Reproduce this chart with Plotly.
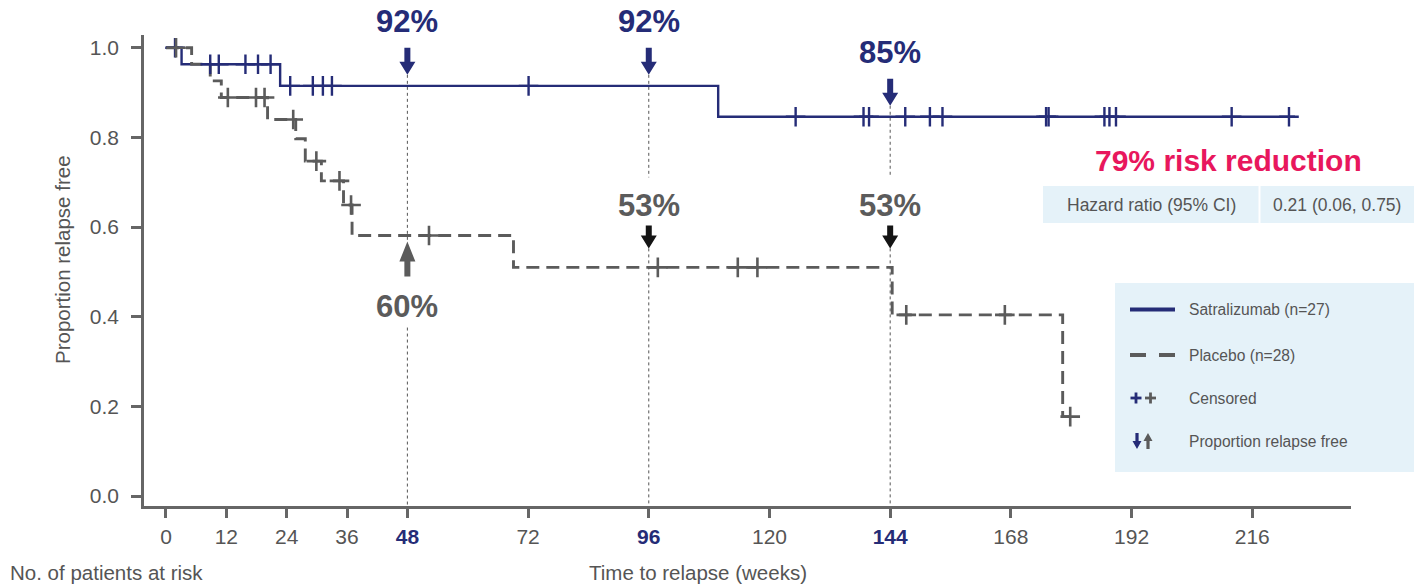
import numpy as np
import plotly.graph_objects as go

# ---------------- data ----------------
sat_weeks = [0, 3.1, 22.7, 109.8, 224.5]
sat_surv = [1.0, 0.963, 0.915, 0.846, 0.846]
sat_censor_weeks = [1.8, 8.8, 10.5, 15.8, 18.3, 20.8, 24.7, 29.2, 31.2, 33.0, 72.1,
                    125.2, 138.7, 139.8, 147.0, 151.9, 154.4, 175.0, 175.5,
                    186.6, 187.6, 188.9, 211.9, 223.3]

pla_weeks = [0, 5.1, 8.8, 11.0, 20.2, 25.8, 27.7, 30.9, 35.3, 37.0, 69.1, 144.4, 178.3, 180.5]
pla_surv = [1.0, 0.963, 0.926, 0.889, 0.840, 0.797, 0.747, 0.703, 0.649, 0.581, 0.510, 0.404, 0.177, 0.177]
pla_censor_weeks = [2.0, 12.3, 17.9, 19.6, 25.3, 29.9, 34.5, 36.8, 52.3, 97.8, 113.7, 117.6,
                    147.2, 166.8, 179.8]

landmark_weeks = [48, 96, 144]
sat_landmark_pct = [92, 92, 85]
pla_landmark_pct = [60, 53, 53]

x_tickvals = [0, 12, 24, 36, 48, 72, 96, 120, 144, 168, 192, 216]
y_tickvals = [0.0, 0.2, 0.4, 0.6, 0.8, 1.0]
y_ticktext = ["0.0", "0.2", "0.4", "0.6", "0.8", "1.0"]

sat_name = "Satralizumab (n=27)"
pla_name = "Placebo (n=28)"
risk_text = "79% risk reduction"
hr_label = "Hazard ratio (95% CI)"
hr_value = "0.21 (0.06, 0.75)"

# ---------------- style / geometry ----------------
W, H = 1421, 588
L, R, T, B = 144, 70, 35, 82
PW, PH = W - L - R, H - T - B
XR = [-4.37, 235.63]
YR = [-0.0223, 1.0284]
PX = PW / (XR[1] - XR[0])
PY = PH / (YR[1] - YR[0])

NAVY = "#252c77"
GREY = "#5b5b5b"
TXT = "#555555"
AX = "#666666"
CRIMSON = "#e8175d"
LIGHT = "#e5f2f9"
BLACK = "#141414"
FONT = "Liberation Sans, Arial, Helvetica, sans-serif"

# placement of the placebo landmark label relative to the curve (style only)
pla_label_side = ["below", "above", "above"]


def step_at(weeks, surv, t):
    i = int(np.searchsorted(np.asarray(weeks), t, side="right")) - 1
    return surv[max(i, 0)]


def x2px(w):
    return L + (w - XR[0]) * PX


def y2px(v):
    return T + (YR[1] - v) * PY


def xp(px):
    return (px - L) / PW


def yp(py):
    return (T + PH - py) / PH


def path_from_px(pts):
    return "M " + " L ".join(f"{xp(a):.5f},{yp(b):.5f}" for a, b in pts) + " Z"


def arrow(cx, tip, direction, head_h, shaft_h, head_hw, shaft_hw, color):
    s = 1 if direction == "down" else -1
    base = tip - s * head_h
    end = base - s * shaft_h
    pts = [(cx - shaft_hw, end), (cx + shaft_hw, end), (cx + shaft_hw, base),
           (cx + head_hw, base), (cx, tip), (cx - head_hw, base), (cx - shaft_hw, base)]
    return dict(type="path", xref="paper", yref="paper", path=path_from_px(pts),
                fillcolor=color, line=dict(width=0), layer="above")


def vline_px(cx, y0, y1):
    return dict(type="line", xref="paper", yref="paper", x0=xp(cx), x1=xp(cx),
                y0=yp(y0), y1=yp(y1), line=dict(color="#555555", width=1, dash="3px,3px"),
                layer="below")


def rect_px(x0, y0, x1, y1, color):
    return dict(type="rect", xref="paper", yref="paper", x0=xp(x0), x1=xp(x1),
                y0=yp(y1), y1=yp(y0), fillcolor=color, line=dict(width=0), layer="below")


def seg_px(x0, y0, x1, y1, color, width):
    return dict(type="line", xref="paper", yref="paper", x0=xp(x0), x1=xp(x1),
                y0=yp(y0), y1=yp(y1), line=dict(color=color, width=width), layer="above")


def text_px(px, py, text, size, color, xanchor="center", angle=0):
    return dict(x=xp(px), y=yp(py), xref="paper", yref="paper", text=text,
                showarrow=False, xanchor=xanchor, yanchor="middle", textangle=angle,
                font=dict(size=size, color=color, family=FONT))


fig = go.Figure()

fig.add_trace(go.Scatter(x=sat_weeks, y=sat_surv, mode="lines", line_shape="hv",
                         line=dict(color=NAVY, width=2.4), showlegend=False, hoverinfo="skip"))
fig.add_trace(go.Scatter(x=pla_weeks, y=pla_surv, mode="lines", line_shape="hv",
                         line=dict(color=GREY, width=2.9, dash="13px,7px"),
                         showlegend=False, hoverinfo="skip"))
fig.add_trace(go.Scatter(x=sat_censor_weeks,
                         y=[step_at(sat_weeks, sat_surv, t) for t in sat_censor_weeks],
                         mode="markers", cliponaxis=False,
                         marker=dict(symbol="cross-thin", size=14,
                                     line=dict(color=NAVY, width=2.4)),
                         showlegend=False, hoverinfo="skip"))
fig.add_trace(go.Scatter(x=pla_censor_weeks,
                         y=[step_at(pla_weeks, pla_surv, t) for t in pla_censor_weeks],
                         mode="markers", cliponaxis=False,
                         marker=dict(symbol="cross-thin", size=14,
                                     line=dict(color=GREY, width=2.6)),
                         showlegend=False, hoverinfo="skip"))

shapes = []
annotations = []
axis_py = T + PH

for w, sp, pp, side in zip(landmark_weeks, sat_landmark_pct, pla_landmark_pct, pla_label_side):
    cx = x2px(w)
    # Satralizumab: navy down arrow above curve, bold label above arrow
    c_sat = y2px(step_at(sat_weeks, sat_surv, w))
    sat_tip = c_sat - 11
    shapes.append(arrow(cx, sat_tip, "down", 13, 14, 8, 3, NAVY))
    annotations.append(text_px(cx, sat_tip - 53, f"<b>{sp}%</b>", 31, NAVY))
    c_pla = y2px(step_at(pla_weeks, pla_surv, w))
    if side == "above":
        pla_tip = c_pla - 19
        shapes.append(arrow(cx, pla_tip, "down", 13, 10, 8, 3, BLACK))
        ty = pla_tip - 43
        annotations.append(text_px(cx, ty, f"<b>{pp}%</b>", 31, GREY))
        shapes.append(vline_px(cx, sat_tip, ty - 28))
        shapes.append(vline_px(cx, pla_tip, axis_py))
    else:
        pla_tip = c_pla + 6
        shapes.append(arrow(cx, pla_tip, "up", 20, 15, 8, 3, GREY))
        ty = pla_tip + 65
        annotations.append(text_px(cx, ty, f"<b>{pp}%</b>", 31, GREY))
        shapes.append(vline_px(cx, sat_tip, pla_tip))
        shapes.append(vline_px(cx, ty + 21, axis_py))

# Risk reduction + hazard ratio table
annotations.append(text_px(1228, 160, f"<b>{risk_text}</b>", 30, CRIMSON))
shapes.append(rect_px(1043, 186, 1258.5, 223, LIGHT))
shapes.append(rect_px(1260.5, 186, 1414, 223, LIGHT))
annotations.append(text_px(1151, 204.5, hr_label, 17.5, TXT))
annotations.append(text_px(1337, 204.5, hr_value, 17.5, TXT))

# Legend box
shapes.append(rect_px(1115, 283, 1414, 472, LIGHT))
leg_rows = [309.5, 355, 398, 441]
leg_texts = [sat_name, pla_name, "Censored", "Proportion relapse free"]
shapes.append(seg_px(1130, leg_rows[0], 1175, leg_rows[0], NAVY, 4))
shapes.append(seg_px(1130, leg_rows[1], 1146, leg_rows[1], GREY, 4))
shapes.append(seg_px(1159, leg_rows[1], 1175, leg_rows[1], GREY, 4))
for cxp, col in [(1136, NAVY), (1150.5, GREY)]:
    shapes.append(seg_px(cxp - 5.5, leg_rows[2], cxp + 5.5, leg_rows[2], col, 2.8))
    shapes.append(seg_px(cxp, leg_rows[2] - 5.5, cxp, leg_rows[2] + 5.5, col, 2.8))
shapes.append(arrow(1137, leg_rows[3] + 8, "down", 8, 8, 4.5, 1.6, NAVY))
shapes.append(arrow(1148, leg_rows[3] - 8, "up", 8, 8, 4.5, 1.6, GREY))
for ry, t in zip(leg_rows, leg_texts):
    annotations.append(text_px(1187, ry, t, 15.6, TXT, xanchor="left"))

# Axis titles
annotations.append(text_px(62, 260, "Proportion relapse free", 20.5, TXT, angle=-90))
annotations.append(text_px(698, 572, "Time to relapse (weeks)", 20.5, TXT))
annotations.append(text_px(8, 572, "No. of patients at risk", 20.5, TXT, xanchor="left"))

x_ticktext = [f"<b><span style='color:{NAVY}'>{v}</span></b>" if v in landmark_weeks else str(v)
              for v in x_tickvals]

fig.update_layout(
    width=W, height=H, autosize=False,
    margin=dict(l=L, r=R, t=T, b=B, pad=0),
    plot_bgcolor="white", paper_bgcolor="white",
    font=dict(family=FONT, color=TXT),
    showlegend=False,
    xaxis=dict(range=XR, showgrid=False, zeroline=False, showline=True,
               linecolor=AX, linewidth=2.5, ticks="outside", ticklen=9, tickwidth=2.5,
               tickcolor=AX, tickvals=x_tickvals, ticktext=x_ticktext,
               tickfont=dict(size=21, color=TXT, family=FONT), ticklabelstandoff=1),
    yaxis=dict(range=YR, showgrid=False, zeroline=False, showline=True,
               linecolor=AX, linewidth=2.5, ticks="outside", ticklen=10, tickwidth=2.5,
               tickcolor=AX, tickvals=y_tickvals, ticktext=y_ticktext,
               tickfont=dict(size=21, color=TXT, family=FONT), ticklabelstandoff=8),
    shapes=shapes,
    annotations=annotations,
)

fig.write_html("out.html", config={"displayModeBar": False},
               post_script="document.body.style.margin='0';")
